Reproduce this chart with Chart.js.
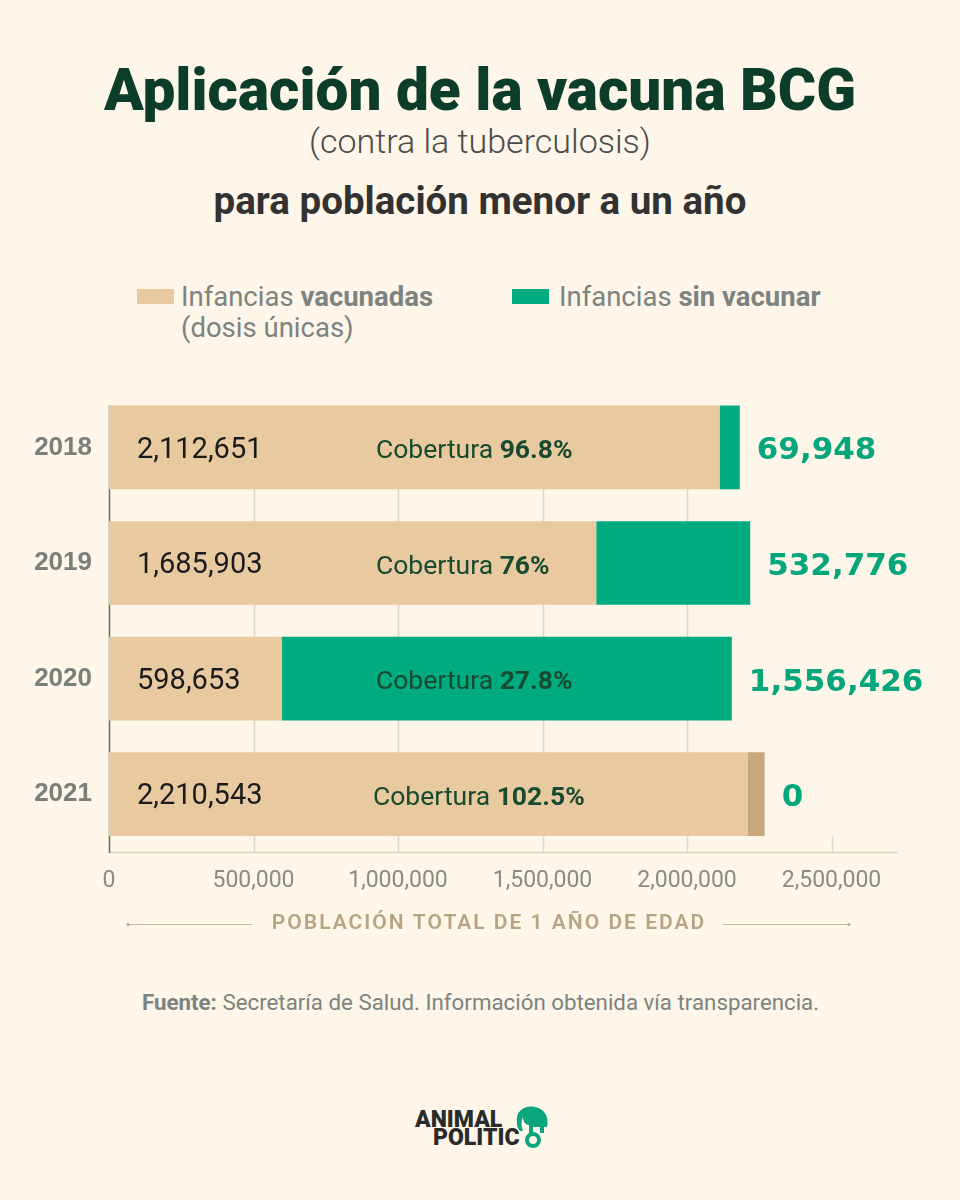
<!DOCTYPE html>
<html>
<head>
<meta charset="utf-8">
<script src="https://cdn.jsdelivr.net/npm/chart.js@4/dist/chart.umd.min.js"></script>
<style>
	html, body { margin: 0; padding: 0; }
	body { width: 960px; height: 1200px; background: #fdf6e9; position: relative; overflow: hidden; font-family: Roboto, 'Noto Sans', sans-serif; }
	.abs { position: absolute; left: 0; width: 960px; text-align: center; white-space: nowrap; }
	#title { top: 62px; font-size: 58.5px; line-height: 56px; font-weight: 900; color: #0c3d28; }
	#sub { top: 122px; font-size: 34px; line-height: 38px; font-weight: 300; color: #4b4b4b; }
	#sub2 { top: 181px; font-size: 38.5px; line-height: 40px; font-weight: 700; color: #333231; }
	.leg { position: absolute; top: 281px; font-size: 27.5px; line-height: 31px; color: #7d837e; }
	.leg b { font-weight: 700; }
	.sw { position: absolute; top: 289px; width: 37px; height: 15px; }
	#chartbox { position: absolute; left: 0; top: 357px; width: 960px; height: 593px; }
	#fuente { position: absolute; left: 142px; top: 989px; font-size: 22.3px; line-height: 26px; color: #7d837e; }
	#logo { position: absolute; left: 415px; top: 1111px; font-family: Roboto, sans-serif; font-weight: 900; font-size: 23px; line-height: 18px; color: #2b2b2b; }
</style>
</head>
<body>
<div id="title" class="abs">Aplicación de la vacuna BCG</div>
<div id="sub" class="abs">(contra la tuberculosis)</div>
<div id="sub2" class="abs">para población menor a un año</div>

<div class="sw" style="left:137px;background:#e8c9a0"></div>
<div class="leg" style="left:181px">Infancias <b>vacunadas</b><br>(dosis únicas)</div>
<div class="sw" style="left:512px;background:#00ab80"></div>
<div class="leg" style="left:559px">Infancias <b>sin vacunar</b></div>

<div id="chartbox"><canvas id="bcg-chart" width="960" height="593"></canvas></div>

<div id="fuente"><b>Fuente:</b> Secretaría de Salud. Información obtenida vía transparencia.</div>

<div id="logo">
	<div>ANIMAL</div>
	<div style="padding-left:18px">POLITIC</div>
	<svg style="position:absolute;left:96px;top:-8px" width="40" height="46" viewBox="0 0 40 46">
		<path d="M6 20 C4 8 14 2 24 4 C34 6 38 14 36 24 L33 24 L33 30 L29 30 L29 24 L22 24 L22 30 L18 30 L18 22 C14 22 12 18 12 14 C10 18 10 24 12 28 L9 28 C7 26 6 23 6 20 Z" fill="#0aa57c"/>
		<circle cx="22" cy="37" r="6" fill="none" stroke="#0aa57c" stroke-width="4"/>
	</svg>
</div>

<script>
// data
const years = ['2018', '2019', '2020', '2021']
const vacunadas = [2112651, 1685903, 598653, 2210543]
const sinVacunar = [69948, 532776, 1556426, 0]
const excedente = [0, 0, 0, 58000]
const cobertura = ['96.8%', '76%', '27.8%', '102.5%']
const xTicks = [0, 500000, 1000000, 1500000, 2000000, 2500000]

const fmt = n => n.toLocaleString('en-US')

// lines, labels, axis title
const decor = {
	id: 'decor',
	beforeDatasetsDraw(chart) {
		const { ctx, chartArea, scales } = chart
		const bars0 = chart.getDatasetMeta(0).data
		const top = bars0[0].y - bars0[0].height / 2
		const lastBottom = bars0[3].y + bars0[3].height / 2
		ctx.save()
		ctx.strokeStyle = '#e0d5c3'
		ctx.lineWidth = 1.5
		xTicks.forEach(v => {
			if (v === 0) return
			const x = Math.round(scales.x.getPixelForValue(v)) + 0.5
			ctx.beginPath()
			ctx.moveTo(x, v === 2500000 ? lastBottom : top)
			ctx.lineTo(x, chartArea.bottom)
			ctx.stroke()
		})
		ctx.beginPath()
		ctx.moveTo(chartArea.left, chartArea.bottom + 0.5)
		ctx.lineTo(chartArea.right, chartArea.bottom + 0.5)
		ctx.stroke()
		ctx.strokeStyle = '#6d6a64'
		ctx.beginPath()
		ctx.moveTo(chartArea.left + 0.5, top)
		ctx.lineTo(chartArea.left + 0.5, chartArea.bottom + 1)
		ctx.stroke()
		ctx.restore()
	},
	afterDatasetsDraw(chart) {
		const { ctx, chartArea } = chart
		const metas = [0, 1, 2].map(i => chart.getDatasetMeta(i).data)
		ctx.save()
		ctx.textBaseline = 'middle'
		years.forEach((y, i) => {
			const cy = metas[0][i].y + 3
			ctx.fillStyle = '#1b1b1b'
			ctx.font = '400 29px Roboto'
			ctx.textAlign = 'left'
			ctx.fillText(fmt(vacunadas[i]), chartArea.left + 28, cy)
			ctx.fillStyle = '#174a2f'
			ctx.font = '400 26.5px Roboto'
			const pre = 'Cobertura '
			const cx = chartArea.left + (i === 3 ? 264 : 267)
			ctx.fillText(pre, cx, cy + 1)
			const w = ctx.measureText(pre).width
			ctx.font = '700 26.5px Roboto'
			ctx.fillText(cobertura[i], cx + w, cy + 1)
			// end of stack
			let end = metas[0][i].x
			metas.forEach(m => { if (m[i].width > 0.5) end = Math.max(end, m[i].x) })
			ctx.fillStyle = '#06a67c'
			ctx.font = '700 31px "DejaVu Sans"'
			ctx.fillText(fmt(sinVacunar[i]), end + 17, cy + 1)
		})
		// axis title
		const ty = chartArea.bottom + 72
		ctx.fillStyle = '#b9a385'
		ctx.font = '600 21px Roboto'
		ctx.textAlign = 'center'
		ctx.letterSpacing = '2px'
		ctx.fillText('POBLACIÓN TOTAL DE 1 AÑO DE EDAD', 489, ty)
		ctx.strokeStyle = '#c9b89f'
		ctx.lineWidth = 1
		ctx.beginPath()
		ctx.moveTo(128, ty + 0.5); ctx.lineTo(252, ty + 0.5)
		ctx.moveTo(723, ty + 0.5); ctx.lineTo(849, ty + 0.5)
		ctx.stroke()
		ctx.fillStyle = '#b9a385'
		;[128, 849].forEach(x => { ctx.beginPath(); ctx.arc(x, ty + 0.5, 1.5, 0, Math.PI * 2); ctx.fill() })
		ctx.restore()
	}
}

const bcgChart = new Chart(document.getElementById('bcg-chart'), {
	type: 'bar',
	data: {
		labels: years,
		datasets: [
			{ label: 'Infancias vacunadas', data: vacunadas, backgroundColor: '#e8c9a0' },
			{ label: 'Infancias sin vacunar', data: sinVacunar, backgroundColor: '#00ab80' },
			{ label: 'Excedente', data: excedente, backgroundColor: '#c9a77d' }
		]
	},
	options: {
		indexAxis: 'y',
		responsive: false,
		animation: false,
		maintainAspectRatio: false,
		layout: { padding: { top: 9, right: 62, left: 0, bottom: 0 } },
		datasets: { bar: { categoryPercentage: 1, barPercentage: 0.724, borderWidth: 0 } },
		plugins: { legend: { display: false }, tooltip: { enabled: false } },
		scales: {
			x: {
				stacked: true,
				min: 0,
				max: 2730000,
				afterBuildTicks: s => { s.ticks = xTicks.map(v => ({ value: v })) },
				afterFit: s => { s.height = 98 },
				grid: { display: false, drawTicks: false },
				border: { display: false },
				ticks: {
					padding: 15,
					maxRotation: 0,
					color: '#8c8b85',
					font: { family: 'Roboto', size: 23 },
					callback: v => fmt(v)
				}
			},
			y: {
				stacked: true,
				afterFit: s => { s.width = 109 },
				grid: { display: false, drawTicks: false },
				border: { display: false },
				ticks: {
					padding: 17,
					color: '#7b7f7a',
					font: { family: 'Liberation Sans', size: 26, weight: 'bold' }
				}
			}
		}
	},
	plugins: [decor]
})
</script>
</body>
</html>
